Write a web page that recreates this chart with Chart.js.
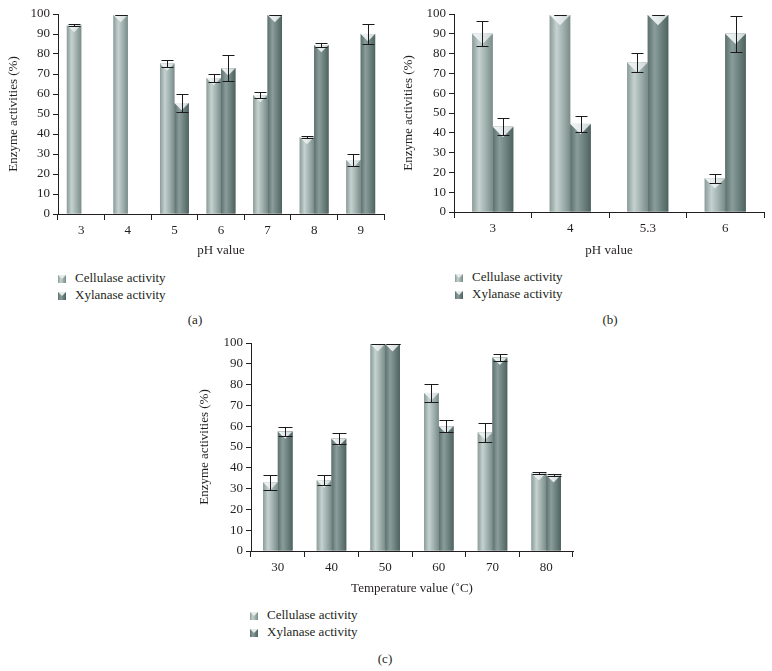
<!DOCTYPE html>
<html>
<head>
<meta charset="utf-8">
<script src="https://cdn.jsdelivr.net/npm/chart.js@4.4.0/dist/chart.umd.min.js"></script>
<style>
	body { margin: 0; background: #fff; width: 772px; height: 671px; position: relative; overflow: hidden; font-family: "Liberation Serif", serif; color: #231f20; }
	.box { position: absolute; }
	.lg { position: absolute; font-size: 13px; line-height: 16px; white-space: nowrap; }
	.lg i { display: inline-block; position: relative; width: 8px; height: 8px; margin-right: 9px; vertical-align: -1px; }
	.lg i::before { content: ""; position: absolute; left: 0; top: 0; width: 8px; height: 4px; background: #e6ecec; clip-path: polygon(0 0, 100% 0, 50% 100%); }
	.cel { background: linear-gradient(to right, #8a9b98, #c5d2d0 35%, #9fb0ad 65%, #7a8c89); }
	.xyl { background: linear-gradient(to right, #5c706d, #8a9d9a 35%, #6c817e 65%, #4e625f); }
	.cap { position: absolute; font-size: 13px; transform: translateX(-50%); }
</style>
</head>
<body>

<div class="box" style="left:0;top:0;width:390px;height:262px"><canvas id="chartA"></canvas></div>
<div class="box" style="left:390px;top:0;width:382px;height:262px"><canvas id="chartB"></canvas></div>
<div class="box" style="left:190px;top:330px;width:400px;height:270px"><canvas id="chartC"></canvas></div>

<div class="lg" style="left:58px;top:270px"><i class="cel"></i>Cellulase activity</div>
<div class="lg" style="left:58px;top:287px"><i class="xyl"></i>Xylanase activity</div>
<div class="lg" style="left:455px;top:269px"><i class="cel"></i>Cellulase activity</div>
<div class="lg" style="left:455px;top:286px"><i class="xyl"></i>Xylanase activity</div>
<div class="lg" style="left:250px;top:607px"><i class="cel"></i>Cellulase activity</div>
<div class="lg" style="left:250px;top:624px"><i class="xyl"></i>Xylanase activity</div>

<div class="cap" style="left:195px;top:312px">(a)</div>
<div class="cap" style="left:610px;top:312px">(b)</div>
<div class="cap" style="left:385px;top:651px">(c)</div>

<script>
// (a) pH, first set
const phA = ['3', '4', '5', '6', '7', '8', '9'];
const celA = [94.5, 99.5, 75.2, 68, 59.5, 38.5, 27];
const celErrA = [0.5, 0, 1.6, 1.8, 1.7, 0.3, 3];
const xylA = [0, 0, 55.5, 72.9, 99.5, 84.5, 90];
const xylErrA = [0, 0, 4.7, 6.4, 0, 1, 5];

// (b) pH, second set
const phB = ['3', '4', '5.3', '6'];
const celB = [90, 99.5, 75.5, 17];
const celErrB = [6.3, 0, 4.8, 2.3];
const xylB = [43, 44.5, 99.5, 90];
const xylErrB = [4.3, 4, 0, 9];

// (c) temperature
const tempC = ['30', '40', '50', '60', '70', '80'];
const celC = [33, 34, 99.5, 76, 57, 37.5];
const celErrC = [3.7, 2.5, 0, 4.5, 4.5, 0.7];
const xylC = [57.5, 54, 99.5, 60, 93, 36.5];
const xylErrC = [2.3, 2.5, 0, 2.8, 1.8, 0.4];

const yTicks = [0, 10, 20, 30, 40, 50, 60, 70, 80, 90, 100];

const celShade = ['#8a9b98', '#c5d2d0', '#9fb0ad', '#7a8c89'];
const xylShade = ['#5c706d', '#8a9d9a', '#6c817e', '#4e625f'];

const font = { family: 'Liberation Serif', size: 13 };
const ink = '#231f20';

// shaded cylinders with a notch on top, plus the error bars
const cylinder = {
	id: 'cylinder',
	afterDatasetsDraw(chart, args, opts) {
		const ctx = chart.ctx;
		const y = chart.scales.y;
		chart.data.datasets.forEach((ds, i) => {
			const meta = chart.getDatasetMeta(i);
			meta.data.forEach((bar, j) => {
				const w = bar.width, l = bar.x - w / 2, top = bar.y, base = bar.base;
				if (base - top < 0.5) return;
				ctx.save();
				const g = ctx.createLinearGradient(l, 0, l + w, 0);
				ds.shade.forEach((c, k) => g.addColorStop(k / (ds.shade.length - 1), c));
				ctx.fillStyle = g;
				ctx.fillRect(l, top, w, base - top);
				const d = Math.min(w * 0.5, base - top);
				const n = ctx.createLinearGradient(l, 0, l + w, 0);
				n.addColorStop(0, '#f2f5f5');
				n.addColorStop(0.5, '#e4eaea');
				n.addColorStop(1, '#cdd6d5');
				ctx.beginPath();
				ctx.moveTo(l, top);
				ctx.lineTo(l + w, top);
				ctx.lineTo(bar.x, top + d);
				ctx.closePath();
				ctx.fillStyle = n;
				ctx.fill();

				const v = ds.data[j], e = ds.err[j];
				const hi = Math.round(y.getPixelForValue(v + e)) + 0.5;
				const lo = Math.round(y.getPixelForValue(v - e)) + 0.5;
				const cx = Math.round(bar.x) + 0.5;
				ctx.strokeStyle = '#1a1a1a';
				ctx.lineWidth = 1;
				ctx.beginPath();
				ctx.moveTo(cx, hi); ctx.lineTo(cx, lo);
				ctx.moveTo(cx - opts.cap, hi); ctx.lineTo(cx + opts.cap, hi);
				ctx.moveTo(cx - opts.cap, lo); ctx.lineTo(cx + opts.cap, lo);
				ctx.stroke();
				ctx.restore();
			});
		});
	}
};

function makeChart(id, labels, cel, celErr, xyl, xylErr, xTitle, box) {
	return new Chart(document.getElementById(id), {
		type: 'bar',
		data: {
			labels: labels,
			datasets: [
				{ label: 'Cellulase activity', data: cel, err: celErr, shade: celShade, backgroundColor: '#a5b3b1', borderWidth: 0 },
				{ label: 'Xylanase activity', data: xyl, err: xylErr, shade: xylShade, backgroundColor: '#6d807d', borderWidth: 0 }
			]
		},
		options: {
			responsive: true,
			maintainAspectRatio: false,
			animation: false,
			categoryPercentage: box.cat,
			barPercentage: 1,
			layout: { padding: { top: box.top, right: box.right, left: 0, bottom: 0 } },
			plugins: {
				legend: { display: false },
				tooltip: { enabled: false },
				cylinder: { cap: box.cap }
			},
			scales: {
				x: {
					afterFit(s) { s.height = box.xh; },
					border: { color: ink, width: 1 },
					grid: { display: true, drawOnChartArea: false, drawTicks: true, tickLength: 6, color: ink, offset: true },
					ticks: { color: ink, font: font, padding: 3, maxRotation: 0 },
					title: { display: true, text: xTitle, color: ink, font: font, padding: { top: 4, bottom: 4 } }
				},
				y: {
					min: 0,
					max: 100,
					afterFit(s) { s.width = box.yw; },
					afterBuildTicks(s) { s.ticks = yTicks.map(v => ({ value: v })); },
					border: { color: ink, width: 1 },
					grid: { display: true, drawOnChartArea: false, drawTicks: true, tickLength: 5, color: ink },
					ticks: { color: ink, font: font, padding: 3 },
					title: { display: true, text: 'Enzyme activities (%)', color: ink, font: font, padding: { top: box.tp, bottom: 0 } }
				}
			}
		},
		plugins: [cylinder]
	});
}

makeChart('chartA', phA, celA, celErrA, xylA, xylErrA, 'pH value',
	{ cat: 0.62, top: 14, right: 6, xh: 48, yw: 58, tp: 6, cap: 6 });
makeChart('chartB', phB, celB, celErrB, xylB, xylErrB, 'pH value',
	{ cat: 0.53, top: 14, right: 8, xh: 50, yw: 64, tp: 11, cap: 6 });
makeChart('chartC', tempC, celC, celErrC, xylC, xylErrC, 'Temperature value (\u02daC)',
	{ cat: 0.55, top: 13, right: 17, xh: 49, yw: 61, tp: 7, cap: 7 });
</script>
</body>
</html>
